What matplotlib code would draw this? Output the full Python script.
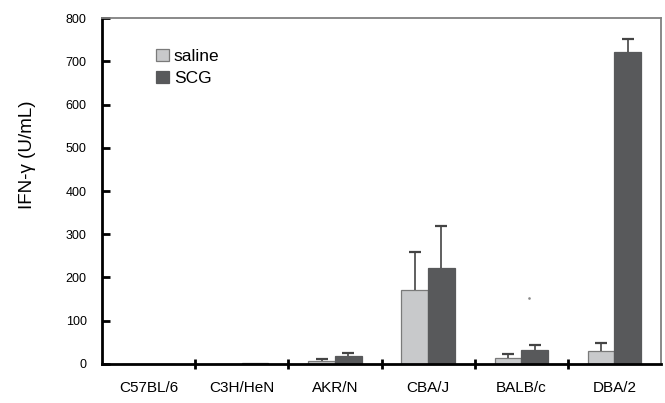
import matplotlib.pyplot as plt
import numpy as np

plt.rcParams['font.family'] = ['Liberation Sans', 'DejaVu Sans']

strains = ["C57BL/6", "C3H/HeN", "AKR/N", "CBA/J", "BALB/c", "DBA/2"]
saline = [0, 1, 7, 170, 13, 31]
saline_err = [0, 0, 4, 89, 11, 17]
scg = [0, 2, 19, 222, 32, 721]
scg_err = [0, 0, 7, 97, 13, 30]

fig = plt.figure(figsize=(6.65, 4.03), dpi=100)
ax = fig.add_axes([0.1534, 0.0968, 0.994 - 0.1534, 0.9553 - 0.0968])

x = np.arange(len(strains))
w = 0.286
ax.bar(x - w / 2, saline, w, color="#c8c9cb", edgecolor="#7a7a7a", linewidth=0.9,
       label="saline", zorder=2)
ax.bar(x + w / 2, scg, w, color="#58595b", edgecolor="#58595b", linewidth=0.9,
       label="SCG", zorder=2)

# только верхние "усы": линия + колпачок сверху
for pos, val, err in [(x - w / 2, saline, saline_err), (x + w / 2, scg, scg_err)]:
    val = np.array(val)
    err = np.array(err)
    ax.vlines(pos, val, val + err, color="#444444", linewidth=1.2, zorder=3)
    top = err > 0
    ax.plot(pos[top], (val + err)[top], linestyle="none", marker="_",
            markersize=8, markeredgewidth=1.6, color="#444444", zorder=3)

ax.set_xlim(-0.5, len(strains) - 0.5)
ax.set_ylim(0, 800)
ax.set_yticks(range(0, 801, 100))
ax.tick_params(axis="y", direction="in", length=6, width=2, labelsize=9, pad=11)

# метки категорий и разделители на оси x
ax.set_xticks(x)
ax.set_xticklabels(strains, fontsize=11)
ax.tick_params(axis="x", length=0, pad=12)
ax.set_xticks(np.arange(0.5, len(strains) - 0.5), minor=True)
ax.tick_params(axis="x", which="minor", direction="inout", length=7, width=2,
               color="black")

for s in ["left", "bottom"]:
    ax.spines[s].set_linewidth(2)
    ax.spines[s].set_color("black")
for s in ["top", "right"]:
    ax.spines[s].set_linewidth(1.3)
    ax.spines[s].set_color("#808080")

# случайная точка из оригинала
ax.plot([4.08], [153], marker="s", markersize=0.8, color="#888888")

fig.text(0.042, 0.615, "IFN-\u03b3 (U/mL)", rotation=90, fontsize=13.5,
         ha="center", va="center")

ax.legend(loc="upper left", bbox_to_anchor=(0.085, 0.93), frameon=False,
          fontsize=12.5, handlelength=0.7, handleheight=0.7,
          handletextpad=0.3, labelspacing=0.4, borderaxespad=0)

plt.savefig("out.png", dpi=100)
